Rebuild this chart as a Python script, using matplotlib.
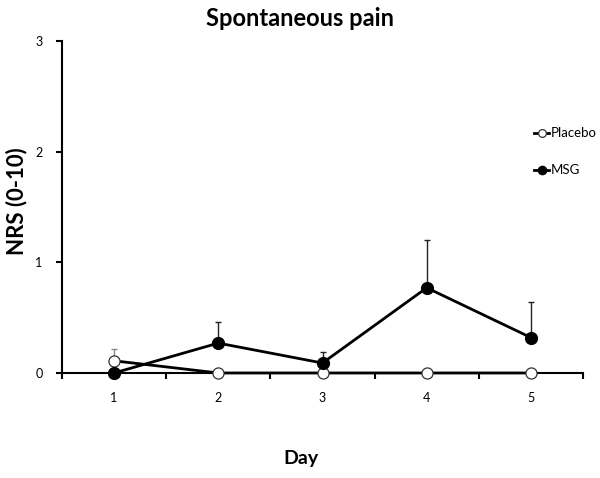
import matplotlib
matplotlib.use("Agg")
import matplotlib.pyplot as plt

days = [1, 2, 3, 4, 5]
placebo = [0.11, 0.0, 0.0, 0.0, 0.0]
placebo_err = [0.11, 0.0, 0.0, 0.0, 0.0]
msg = [0.0, 0.27, 0.09, 0.77, 0.32]
msg_err = [0.0, 0.19, 0.10, 0.43, 0.32]
x_ticklabels = ["1", "2", "3", "4", "5"]
y_ticks = [0, 1, 2, 3]

plt.rcParams['font.family'] = ['Lato', 'DejaVu Sans']

fig = plt.figure(figsize=(6.0, 4.78), dpi=100)
ax = fig.add_axes([0.1033, 0.2197, 0.8684, 0.6945])

ax.errorbar(days, placebo, yerr=[[0]*5, placebo_err], fmt='none', ecolor='#888888',
            elinewidth=1.0, capsize=2.5, capthick=1.0, zorder=2)
ax.errorbar(days, msg, yerr=[[0]*5, msg_err], fmt='none', ecolor='#222222',
            elinewidth=1.0, capsize=2.5, capthick=1.0, zorder=2)
ax.plot(days, placebo, '-o', color='black', mfc='white', mec='#333333', ms=8, mew=0.9,
        lw=2.0, label='Placebo', zorder=3)
ax.plot(days, msg, '-o', color='black', mfc='black', mec='black', ms=8.5,
        lw=2.0, label='MSG', zorder=4)

ax.set_xlim(0.5, 5.5)
ax.set_ylim(0, 3)
ax.set_xticks(days)
ax.set_xticklabels(x_ticklabels, fontsize=9)
ax.set_xticks([0.5, 1.5, 2.5, 3.5, 4.5, 5.5], minor=True)
ax.tick_params(axis='x', which='major', length=0, pad=14)
ax.tick_params(axis='x', which='minor', length=4, width=1.5, direction='out')
ax.set_yticks(y_ticks)
ax.set_yticklabels([str(v) for v in y_ticks], fontsize=9)
ax.tick_params(axis='y', length=4, width=1.5, direction='out', pad=10)

for s in ['top', 'right']:
    ax.spines[s].set_visible(False)
for s in ['left', 'bottom']:
    ax.spines[s].set_linewidth(1.5)
for art in ax.get_children():
    try:
        art.set_clip_on(False)
    except Exception:
        pass

fig.text(0.5, 0.985, 'Spontaneous pain', ha='center', va='top', fontsize=17, fontweight='bold')
fig.text(0.027, 0.58, 'NRS (0-10)', rotation=90, ha='center', va='center', fontsize=16, fontweight='bold')
fig.text(0.502, 0.022, 'Day', ha='center', va='bottom', fontsize=14, fontweight='bold')

leg = fig.legend(loc='upper left', bbox_to_anchor=(0.882, 0.745), frameon=False,
                 fontsize=9.5, handlelength=1.1, handletextpad=0.15, labelspacing=1.9,
                 markerscale=0.7, borderaxespad=0)

fig.savefig('out.png', dpi=100)
